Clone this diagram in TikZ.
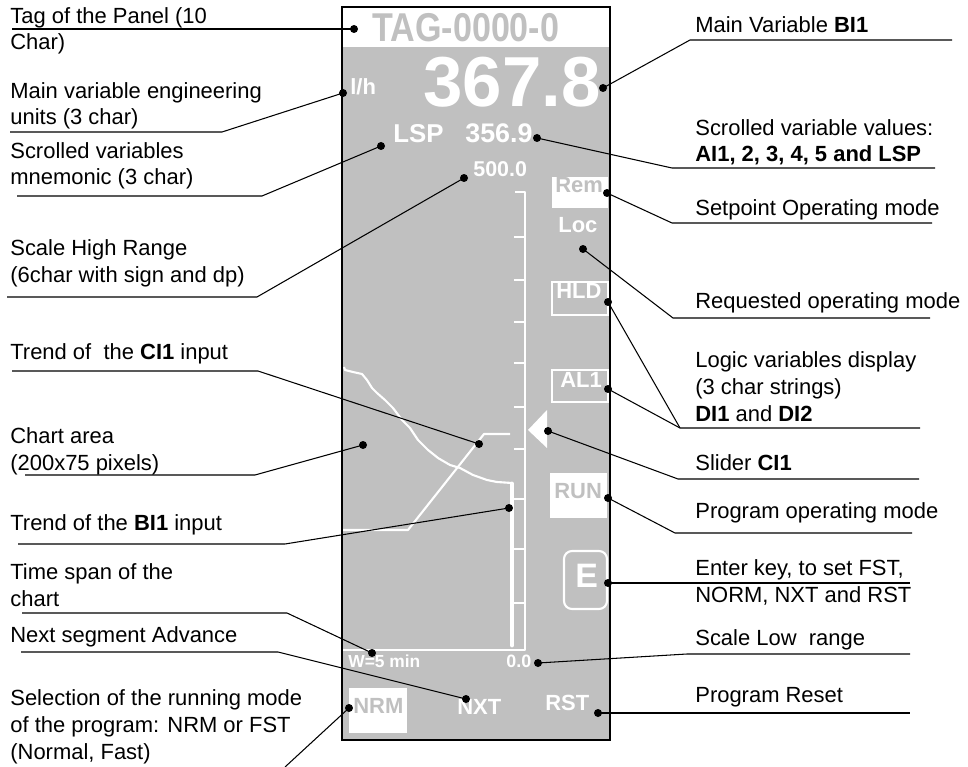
\documentclass[tikz,border=0pt]{standalone}
\usepackage{fontspec}
\setmainfont{Liberation Sans}
\usetikzlibrary{calc}
\definecolor{panelgray}{RGB}{192,192,192}

\begin{document}
\begin{tikzpicture}[x=0.02cm, y=-0.02cm,
  lbl/.style={anchor=base west, inner sep=0, align=left, font=\fontsize{12.5}{15.3}\selectfont},
  disp/.style={anchor=base west, inner sep=0, text=white, font=\bfseries\fontsize{12.5}{15}\selectfont},
  dispgray/.style={disp, text=panelgray},
  dot/.style={circle, fill=black, inner sep=0, minimum size=0.16cm},
  lead/.style={black, line width=0.6pt},
  trace/.style={white, line width=1.2pt, line join=round}]
  \useasboundingbox (0,0) rectangle (968,767);

  % panel
  \fill[panelgray] (342,7) rectangle (610,740);
  \fill[white] (342,7) rectangle (610,47);

  % chart and scale
  \draw[trace] (342,650) -- (525,650) -- (525,192) -- (515,192);
  \foreach \ty in {237,280,322,363,407,449}
    \draw[trace] (514,\ty) -- (525,\ty);
  \foreach \ty in {499,549,603}
    \draw[trace] (512,\ty) -- (525,\ty);
  \draw[trace] (344,367) -- (345,370) -- (353,372) -- (362,374) -- (367,380) -- (372,388)
    -- (377,393) -- (385,400) -- (393,408) -- (402,420) -- (410,428) -- (418,440)
    -- (428,450) -- (438,458) -- (450,465) -- (460,468) -- (473,475) -- (487,480)
    -- (497,482) -- (512,483);
  \draw[white, line width=2.8pt, line cap=round] (512,484) -- (512,645);
  \draw[trace] (343,530) -- (408,530) -- (484,434) -- (510,434);
  \fill[white] (528,430) -- (547,410) -- (547,448) -- cycle;

  % mode boxes
  \fill[white] (552,177) rectangle (608,208);
  \draw[white, line width=1.2pt] (552,282) rectangle (608,315);
  \draw[white, line width=1.2pt] (552,370) rectangle (608,402);
  \fill[white] (550,473) rectangle (607,518);
  \draw[white, line width=1.2pt, rounded corners=0.16cm] (564,551) rectangle (607,609);
  \fill[white] (349,688) rectangle (407,733);

  \draw[black, line width=1.7pt] (342,7) rectangle (610,740);

  % display texts
  \node[dispgray, font=\bfseries\fontsize{19.4}{22}\selectfont] (tag) at (372,42) {\scalebox{1}[1.18]{TAG-0000-0}};
  \node[disp, font=\bfseries\fontsize{40.3}{42}\selectfont] (pv) at (423,107) {367.8};
  \node[disp] (units) at (350,95) {l/h};
  \node[disp, font=\bfseries\fontsize{14.7}{16}\selectfont] (mnem) at (393,143) {LSP};
  \node[disp, font=\bfseries\fontsize{15.3}{16}\selectfont] (val) at (465,143) {356.9};
  \node[disp, font=\bfseries\fontsize{12.2}{14}\selectfont] (high) at (473,177) {500.0};
  \node[dispgray] (rem) at (555,193) {Rem};
  \node[disp] (loc) at (558,233) {Loc};
  \node[disp] (hld) at (556,298) {HLD};
  \node[disp] (al) at (560,387) {AL1};
  \node[dispgray] (run) at (554,498) {RUN};
  \node[disp, font=\bfseries\fontsize{19.3}{21}\selectfont] (enter) at (575,587) {E};
  \node[disp, font=\bfseries\fontsize{9.9}{11}\selectfont] (span) at (348,667) {W=5 min};
  \node[disp, font=\bfseries\fontsize{10.2}{11}\selectfont] (low) at (506,667) {0.0};
  \node[dispgray] (nrm) at (353,713) {NRM};
  \node[disp] (nxt) at (457,714) {NXT};
  \node[disp] (rst) at (545,710) {RST};

  % left labels (base = last line)
  \node[lbl] (lTag) at (10,50) {Tag of the Panel (10\\Char)};
  \node[lbl] (lUnit) at (10,125) {Main variable engineering\\units (3 char)};
  \node[lbl] (lMnem) at (10,185) {Scrolled variables\\mnemonic (3 char)};
  \node[lbl] (lHigh) at (10,282) {Scale High Range\\(6char with sign and dp)};
  \node[lbl] (lTrCi) at (10,359) {Trend of~ the \textbf{CI1} input};
  \node[lbl] (lChart) at (10,470) {Chart area\\(200x75 pixels)};
  \node[lbl] (lTrBi) at (10,530) {Trend of the \textbf{BI1} input};
  \node[lbl] (lTime) at (10,606) {Time span of the\\chart};
  \node[lbl] (lNxt) at (10,642) {Next segment Advance};
  \node[lbl] (lNrm) at (10,759) {Selection of the running mode\\of the program: NRM or FST\\(Normal, Fast)};

  % right labels
  \node[lbl] (rMain) at (695,33) {Main Variable \textbf{BI1}};
  \node[lbl] (rVal) at (695,162) {Scrolled variable values:\\\textbf{AI1, 2, 3, 4, 5 and LSP}};
  \node[lbl] (rRem) at (695,215) {Setpoint Operating mode};
  \node[lbl] (rLoc) at (695,308) {Requested operating mode};
  \node[lbl] (rLogic) at (695,421) {Logic variables display\\(3 char strings)\\\textbf{DI1} and \textbf{DI2}};
  \node[lbl] (rSlider) at (695,470) {Slider \textbf{CI1}};
  \node[lbl] (rRun) at (695,518) {Program operating mode};
  \node[lbl] (rEnter) at (695,602) {Enter key, to set FST,\\NORM, NXT and RST};
  \node[lbl] (rLow) at (695,645) {Scale Low~ range};
  \node[lbl] (rRst) at (695,702) {Program Reset};

  % pointer dots
  \node[dot] (dTag) at (354,29) {};
  \node[dot] (dUnit) at (343,93) {};
  \node[dot] (dMain) at (603,88) {};
  \node[dot] (dMnem) at (381,146) {};
  \node[dot] (dVal) at (537,138) {};
  \node[dot] (dHigh) at (464,178) {};
  \node[dot] (dRem) at (607,193) {};
  \node[dot] (dLoc) at (583,249) {};
  \node[dot] (dHld) at (608,302) {};
  \node[dot] (dAl) at (608,389) {};
  \node[dot] (dTrCi) at (479,444) {};
  \node[dot] (dChart) at (363,445) {};
  \node[dot] (dSlider) at (548,431) {};
  \node[dot] (dTrBi) at (509,508) {};
  \node[dot] (dRun) at (608,498) {};
  \node[dot] (dEnter) at (608,583) {};
  \node[dot] (dTime) at (372,653) {};
  \node[dot] (dLow) at (538,663) {};
  \node[dot] (dNxt) at (466,699) {};
  \node[dot] (dNrm) at (349,708) {};
  \node[dot] (dRst) at (598,713) {};
  \coordinate (kLogic) at (680,428);
  \coordinate (eNrm) at (285,767);

  % leader lines
  \draw[lead] (dTag.center) -- (12,29);
  \draw[lead] (dUnit.center) -- (222,132) -- (10,132);
  \draw[lead] (dMnem.center) -- (262,196) -- (17,196);
  \draw[lead] (dHigh.center) -- (257,297) -- (7,297);
  \draw[lead] (dTrCi.center) -- (258,371) -- (12,371);
  \draw[lead] (dChart.center) -- (255,475) -- (25,475);
  \draw[lead] (dTrBi.center) -- (285,544) -- (18,544);
  \draw[lead] (dTime.center) -- (287,613) -- (22,613);
  \draw[lead] (dNxt.center) -- (278,652) -- (21,652);
  \draw[lead] (dNrm.center) -- (eNrm);

  \draw[lead] (dMain.center) -- (690,40) -- (952,40);
  \draw[lead] (dVal.center) -- (672,168) -- (935,168);
  \draw[lead] (dRem.center) -- (672,223) -- (932,223);
  \draw[lead] (dLoc.center) -- (673,318) -- (930,318);
  \draw[lead] (dHld.center) -- (kLogic);
  \draw[lead] (dAl.center) -- (kLogic) -- (920,428);
  \draw[lead] (dSlider.center) -- (678,479) -- (919,479);
  \draw[lead] (dRun.center) -- (675,533) -- (912,533);
  \draw[lead] (dEnter.center) -- (910,583);
  \draw[lead] (dLow.center) -- (687,654) -- (910,654);
  \draw[lead] (dRst.center) -- (910,713);
\end{tikzpicture}
\end{document}
